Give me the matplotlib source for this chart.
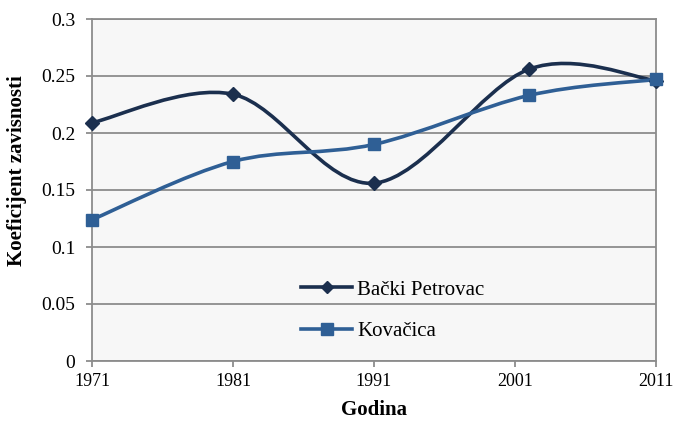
import matplotlib
matplotlib.use("Agg")
import matplotlib.pyplot as plt
from matplotlib.path import Path
from matplotlib.patches import PathPatch
from matplotlib.lines import Line2D

plt.rcParams["font.family"] = ["Liberation Serif", "DejaVu Serif"]

years = [1971, 1981, 1991, 2002, 2011]
backi_petrovac = [0.209, 0.234, 0.156, 0.256, 0.246]
kovacica = [0.124, 0.175, 0.190, 0.233, 0.247]
xticks = [1971, 1981, 1991, 2001, 2011]
yticks = [0, 0.05, 0.1, 0.15, 0.2, 0.25, 0.3]

C_BP = "#1b2f4e"
C_KO = "#2f5f95"


def smooth_path(xs, ys):
    # Excel-style smoothed line: cubic Bezier segments (Catmull-Rom tangents)
    pts = list(zip(xs, ys))
    verts = [pts[0]]
    codes = [Path.MOVETO]
    n = len(pts)
    for i in range(n - 1):
        p0 = pts[i - 1] if i > 0 else pts[i]
        p1 = pts[i]
        p2 = pts[i + 1]
        p3 = pts[i + 2] if i + 2 < n else pts[i + 1]
        c1 = (p1[0] + (p2[0] - p0[0]) / 6, p1[1] + (p2[1] - p0[1]) / 6)
        c2 = (p2[0] - (p3[0] - p1[0]) / 6, p2[1] - (p3[1] - p1[1]) / 6)
        verts += [c1, c2, p2]
        codes += [Path.CURVE4] * 3
    return Path(verts, codes)


fig = plt.figure(figsize=(6.73, 4.22), dpi=100)
ax = fig.add_axes([92 / 673, 1 - 361 / 422, (656 - 92) / 673, (361 - 19) / 422])
ax.set_facecolor("#f7f7f7")

for ys, color, marker, ms in [(backi_petrovac, C_BP, "D", 7),
                              (kovacica, C_KO, "s", 9)]:
    ax.add_patch(PathPatch(smooth_path(years, ys), facecolor="none",
                           edgecolor=color, lw=2.6, zorder=3,
                           capstyle="round", joinstyle="round"))
    ax.plot(years, ys, ls="none", marker=marker, ms=ms, color=color,
            zorder=4, clip_on=False)

ax.set_xlim(1971, 2011)
ax.set_ylim(0, 0.3)
ax.set_xticks(xticks)
ax.set_xticklabels([str(x) for x in xticks])
ax.set_yticks(yticks)
ax.set_yticklabels(["0", "0.05", "0.1", "0.15", "0.2", "0.25", "0.3"])
ax.grid(axis="y", color="#8c8c8c", lw=1.3)
ax.set_axisbelow(True)
for s in ax.spines.values():
    s.set_color("#8c8c8c")
    s.set_linewidth(1.3)
ax.tick_params(colors="#8c8c8c", labelcolor="black",
               length=4, width=1.3, direction="out")
ax.tick_params(axis="y", labelsize=14, pad=8)
ax.tick_params(axis="x", labelsize=13, pad=5)

ax.set_xlabel("Godina", fontsize=15, fontweight="bold")
ax.xaxis.set_label_coords(0.5, -0.115)
ax.set_ylabel("Koeficijent zavisnosti", fontsize=15, fontweight="bold")
ax.yaxis.set_label_coords(-0.115, 0.556)

handles = [Line2D([], [], color=C_BP, lw=2.6, marker="D", ms=6),
           Line2D([], [], color=C_KO, lw=2.6, marker="s", ms=8)]
ax.legend(handles, ["Bački Petrovac", "Kovačica"], loc="upper left",
          bbox_to_anchor=(0.3706, 0.237), frameon=False, fontsize=15,
          labelspacing=1.05, handlelength=2.45, handletextpad=0.25,
          borderpad=0, borderaxespad=0)

fig.savefig("out.png", dpi=100)
